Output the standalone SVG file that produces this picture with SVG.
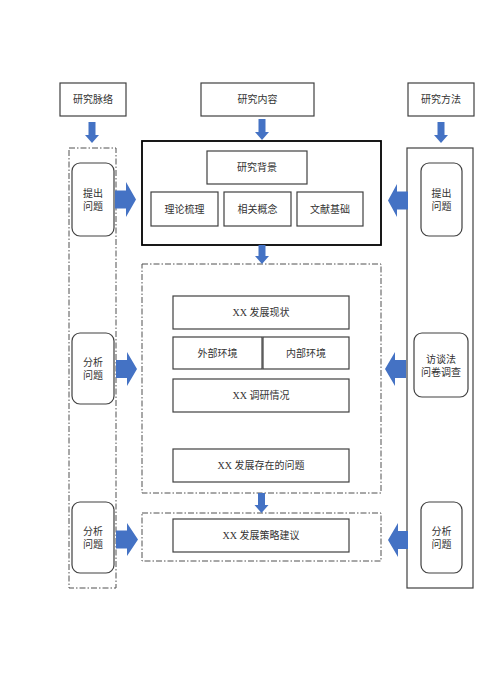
<svg xmlns="http://www.w3.org/2000/svg" width="500" height="693" viewBox="0 0 500 693">
<style>
.b{fill:#fff;stroke:#404040;stroke-width:1.2}
.r{fill:#fff;stroke:#404040;stroke-width:1.2}
.d{fill:none;stroke:#505050;stroke-width:1;stroke-dasharray:6 2 1.5 2}
.m{fill:none;stroke:#000;stroke-width:1.8}
.a{fill:#4472C4}
text{font-family:"Liberation Serif","Noto Sans CJK SC",serif;font-size:10px;fill:#333;text-anchor:middle;dominant-baseline:central}
</style>
<rect width="500" height="693" fill="#fff"/>
<g id="head-context"><rect class="b" x="60" y="83" width="66" height="33"/><text x="93" y="99.5">研究脉络</text></g>
<g id="head-content"><rect class="b" x="201" y="83" width="113" height="33"/><text x="257.5" y="99.5">研究内容</text></g>
<g id="head-method"><rect class="b" x="408" y="83" width="66" height="33"/><text x="441" y="99.5">研究方法</text></g>

<g id="left-column"><rect class="d" x="69" y="148" width="47" height="440"/></g>
<g id="right-column"><rect class="r" x="407" y="148" width="66" height="440"/></g>

<g id="main-box"><rect class="m" x="142" y="141" width="239" height="104"/></g>
<g id="bg"><rect class="b" x="207" y="151" width="100" height="33"/><text x="257" y="167.5">研究背景</text></g>
<g id="theory"><rect class="b" x="151" y="192" width="67" height="34"/><text x="184.5" y="209">理论梳理</text></g>
<g id="concept"><rect class="b" x="224" y="192" width="67" height="34"/><text x="257.5" y="209">相关概念</text></g>
<g id="lit"><rect class="b" x="297" y="192" width="66" height="34"/><text x="330" y="209">文献基础</text></g>

<g id="analysis-box"><rect class="d" x="142" y="264" width="239" height="229"/></g>
<g id="status"><rect class="b" x="173" y="296" width="176" height="33"/><text x="261" y="312.5">XX 发展现状</text></g>
<g id="ext"><rect class="b" x="173" y="337" width="89" height="32"/><text x="217.5" y="353">外部环境</text></g>
<g id="int"><rect class="b" x="263" y="337" width="86" height="32"/><text x="306" y="353">内部环境</text></g>
<g id="survey"><rect class="b" x="173" y="379" width="176" height="33"/><text x="261" y="395.5">XX 调研情况</text></g>
<g id="problems"><rect class="b" x="173" y="449" width="176" height="33"/><text x="261" y="465.5">XX 发展存在的问题</text></g>

<g id="strategy-box"><rect class="d" x="142" y="513" width="239" height="48"/></g>
<g id="strategy"><rect class="b" x="173" y="519" width="176" height="33"/><text x="261" y="535.5">XX 发展策略建议</text></g>

<g id="l1"><rect class="b" x="72" y="163" width="42" height="73" rx="8"/><text x="93" y="193">提出</text><text x="93" y="206">问题</text></g>
<g id="l2"><rect class="b" x="72" y="333" width="42" height="71" rx="8"/><text x="93" y="362">分析</text><text x="93" y="375">问题</text></g>
<g id="l3"><rect class="b" x="72" y="502" width="42" height="71" rx="8"/><text x="93" y="531">分析</text><text x="93" y="544">问题</text></g>
<g id="r1"><rect class="b" x="421" y="163" width="41" height="73" rx="8"/><text x="441.5" y="193">提出</text><text x="441.5" y="206">问题</text></g>
<g id="r2"><rect class="b" x="414" y="333" width="54" height="64" rx="8"/><text x="441" y="359">访谈法</text><text x="441" y="372">问卷调查</text></g>
<g id="r3"><rect class="b" x="421" y="502" width="41" height="71" rx="8"/><text x="441.5" y="531">分析</text><text x="441.5" y="544">问题</text></g>

<g id="connectors">
<path class="a" d="M88.5 122H95.5V135H99L92 143L85 135H88.5Z"/>
<path class="a" d="M258.5 119H265.5V132H269L262 140L255 132H258.5Z"/>
<path class="a" d="M437.5 122H444.5V135H448L441 143L434 135H437.5Z"/>
<path class="a" d="M258.5 245H265.5V256H269L262 264L255 256H258.5Z"/>
<path class="a" d="M258 493H265V505H268.5L261.5 513L254.5 505H258Z"/>
<path class="a" d="M115 190.5H126V182L136 199.5L126 217V208.5H115Z"/>
<path class="a" d="M116 360H127V352L137 369L127 386V378H116Z"/>
<path class="a" d="M116 530.5H127V523L138 539.5L127 556V548.5H116Z"/>
<path class="a" d="M408 191.5H397V184L388 200.5L397 217V209.5H408Z"/>
<path class="a" d="M406 360H395V352L385 369L395 386V378H406Z"/>
<path class="a" d="M408 531H398V523L388 540L398 557V549H408Z"/>
</g>
</svg>
